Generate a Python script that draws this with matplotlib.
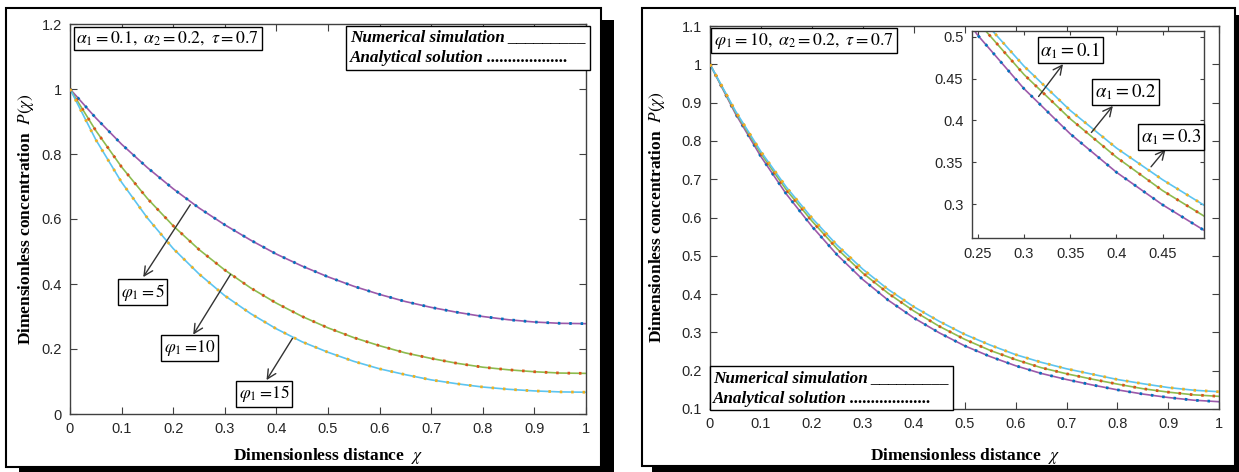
import numpy as np
import matplotlib
matplotlib.use("Agg")
import matplotlib.pyplot as plt
from matplotlib.patches import Rectangle

plt.rcParams["font.family"] = ["Liberation Sans", "DejaVu Sans"]
plt.rcParams["mathtext.fontset"] = "stix"

# data
x = np.round(np.arange(0, 1.0001, 0.05), 2)

# left panel: alpha1 = 0.1, alpha2 = 0.2, tau = 0.7
phi5 = [1.0, 0.911, 0.830, 0.758, 0.693, 0.634, 0.582, 0.535, 0.492, 0.455, 0.422,
        0.393, 0.368, 0.346, 0.328, 0.313, 0.300, 0.290, 0.283, 0.279, 0.278]
phi10 = [1.0, 0.872, 0.760, 0.663, 0.579, 0.506, 0.443, 0.388, 0.341, 0.300, 0.265,
         0.235, 0.210, 0.188, 0.171, 0.156, 0.144, 0.136, 0.130, 0.126, 0.125]
phi15 = [1.0, 0.844, 0.713, 0.603, 0.509, 0.431, 0.364, 0.309, 0.262, 0.222, 0.190,
         0.162, 0.139, 0.121, 0.105, 0.093, 0.083, 0.076, 0.071, 0.068, 0.067]

# right panel: phi1 = 10, alpha2 = 0.2, tau = 0.7
a01 = [1.0, 0.878, 0.772, 0.679, 0.599, 0.527, 0.465, 0.412, 0.367, 0.329, 0.295,
       0.267, 0.242, 0.222, 0.205, 0.191, 0.177, 0.166, 0.156, 0.149, 0.145]
a02 = [1.0, 0.875, 0.767, 0.672, 0.591, 0.518, 0.455, 0.402, 0.356, 0.316, 0.282,
       0.253, 0.229, 0.208, 0.192, 0.178, 0.165, 0.153, 0.144, 0.137, 0.133]
a03 = [1.0, 0.871, 0.759, 0.661, 0.577, 0.502, 0.438, 0.384, 0.338, 0.299, 0.265,
       0.237, 0.213, 0.193, 0.177, 0.163, 0.150, 0.139, 0.130, 0.123, 0.119]

line_cols = ["#9B59AA", "#8DBB4E", "#5CC4F0"]
dot_cols = ["#0072BD", "#D95319", "#EDB120"]
axis_col = "#404040"
W, H = 1239, 472

fig = plt.figure(figsize=(W / 100, H / 100), dpi=100)
fig.patch.set_facecolor("white")


def frame(x0, y0, x1, y1, dx, dy):
    # shadowed panel frame, pixel coords from top-left
    fig.patches.append(Rectangle(((x0 + dx) / W, 1 - (y1 + dy) / H), (x1 - x0) / W, (y1 - y0) / H,
                                 transform=fig.transFigure, fc="black", ec="none", zorder=-2))
    fig.patches.append(Rectangle((x0 / W, 1 - y1 / H), (x1 - x0) / W, (y1 - y0) / H,
                                 transform=fig.transFigure, fc="white", ec="black", lw=1.5, zorder=-1))


frame(6, 8, 601, 467, 13, 12)
frame(642, 8, 1235, 466, 10, 7)


def style(ax, size=10.5):
    ax.set_zorder(1)
    for sp in ax.spines.values():
        sp.set_color(axis_col)
        sp.set_linewidth(1.0)
    ax.tick_params(direction="in", top=True, right=True, length=5, width=0.8,
                   color=axis_col, labelcolor="#262626", labelsize=size, pad=6)


def curves(ax, ys):
    for y, lc, dc in zip(ys, line_cols, dot_cols):
        ax.plot(x, y, color=lc, lw=1.2, zorder=2)
        ax.plot(x, y, color=dc, lw=2.0, dashes=(0.9, 3.2), zorder=3)


def label_box(ax, xc, yc, s, size=12.5, **kw):
    ax.text(xc, yc, s, ha="center", va="center", fontsize=size, zorder=5,
            bbox=dict(boxstyle="square,pad=0.15", fc="white", ec="black", lw=1.0), **kw)


def arrow(ax, tail, head, **kw):
    ax.annotate("", xy=head, xytext=tail, zorder=4,
                arrowprops=dict(arrowstyle="->", color="#333333", lw=1.0, mutation_scale=16), **kw)


serif_b = dict(fontfamily="Liberation Serif", fontweight="bold", fontsize=12.5)
legend_font = dict(fontfamily="Liberation Serif", fontweight="bold", fontstyle="italic", fontsize=12.3)
legend_txt = "Numerical simulation _________\nAnalytical solution ..................."

# ---------------- left panel ----------------
ax1 = fig.add_axes([70 / W, 1 - 414 / H, 516 / W, 390 / H])
curves(ax1, [phi5, phi10, phi15])
ax1.set_xlim(0, 1)
ax1.set_ylim(0, 1.2)
ax1.set_xticks(np.arange(0, 1.01, 0.1))
ax1.set_xticklabels(["0", "0.1", "0.2", "0.3", "0.4", "0.5", "0.6", "0.7", "0.8", "0.9", "1"])
ax1.set_yticks(np.arange(0, 1.21, 0.2))
ax1.set_yticklabels(["0", "0.2", "0.4", "0.6", "0.8", "1", "1.2"])
style(ax1)
ax1.set_xlabel(r"Dimensionless distance  $\chi$", **serif_b)
ax1.set_ylabel(r"Dimensionless concentration  $P(\chi)$", **serif_b)
ax1.xaxis.set_label_coords(0.5, -0.082)
ax1.yaxis.set_label_coords(-0.066, 0.5)

ax1.text(0.012, 0.986, r"$\alpha_1 = 0.1,\ \alpha_2 = 0.2,\ \tau = 0.7$", transform=ax1.transAxes,
         ha="left", va="top", fontsize=12.8, zorder=5,
         bbox=dict(boxstyle="square,pad=0.15", fc="white", ec="black", lw=1.0))
ax1.text(0.542, 0.986, legend_txt, transform=ax1.transAxes, ha="left", va="top",
         linespacing=1.4, zorder=5, bbox=dict(boxstyle="square,pad=0.2", fc="white", ec="black", lw=1.0),
         **legend_font)

label_box(ax1, 0.141, 0.375, r"$\varphi_1 = 5$")
label_box(ax1, 0.232, 0.203, r"$\varphi_1 = \!10$")
label_box(ax1, 0.376, 0.062, r"$\varphi_1 = \!15$")
arrow(ax1, (0.236, 0.651), (0.139, 0.414))
arrow(ax1, (0.314, 0.437), (0.236, 0.237))
arrow(ax1, (0.434, 0.240), (0.378, 0.097))

# ---------------- right panel ----------------
ax2 = fig.add_axes([710 / W, 1 - 409 / H, 509.3 / W, 383 / H])
curves(ax2, [a03, a02, a01])
ax2.set_xlim(0, 1)
ax2.set_ylim(0.1, 1.1)
ax2.set_xticks(np.arange(0, 1.01, 0.1))
ax2.set_xticklabels(["0", "0.1", "0.2", "0.3", "0.4", "0.5", "0.6", "0.7", "0.8", "0.9", "1"])
ax2.set_yticks(np.arange(0.1, 1.11, 0.1))
ax2.set_yticklabels(["0.1", "0.2", "0.3", "0.4", "0.5", "0.6", "0.7", "0.8", "0.9", "1", "1.1"])
style(ax2)
ax2.set_xlabel(r"Dimensionless distance  $\chi$", **serif_b)
ax2.set_ylabel(r"Dimensionless concentration  $P(\chi)$", **serif_b)
ax2.xaxis.set_label_coords(0.5, -0.097)
ax2.yaxis.set_label_coords(-0.084, 0.5)

ax2.text(0.008, 0.988, r"$\varphi_1 = 10,\ \alpha_2 = 0.2,\ \tau = 0.7$", transform=ax2.transAxes,
         ha="left", va="top", fontsize=12.8, zorder=5,
         bbox=dict(boxstyle="square,pad=0.15", fc="white", ec="black", lw=1.0))
ax2.text(0.006, 0.006, legend_txt, transform=ax2.transAxes, ha="left", va="bottom",
         linespacing=1.4, zorder=5, bbox=dict(boxstyle="square,pad=0.2", fc="white", ec="black", lw=1.0),
         **legend_font)

# inset
ax3 = fig.add_axes([971.7 / W, 1 - 238.3 / H, 232.6 / W, 207.3 / H])
curves(ax3, [a03, a02, a01])
ax3.set_xlim(0.2435, 0.495)
ax3.set_ylim(0.259, 0.507)
ax3.set_xticks([0.25, 0.3, 0.35, 0.4, 0.45])
ax3.set_xticklabels(["0.25", "0.3", "0.35", "0.4", "0.45"])
ax3.set_yticks([0.3, 0.35, 0.4, 0.45, 0.5])
ax3.set_yticklabels(["0.3", "0.35", "0.4", "0.45", "0.5"])
style(ax3, size=10.5)
ax3.set_zorder(2)
ax3.tick_params(length=3)

label_box(ax3, 0.350, 0.484, r"$\alpha_1 = 0.1$", size=13.5)
label_box(ax3, 0.410, 0.434, r"$\alpha_1 = 0.2$", size=13.5)
label_box(ax3, 0.459, 0.380, r"$\alpha_1 = 0.3$", size=13.5)
arrow(ax3, (0.314, 0.426), (0.344, 0.470))
arrow(ax3, (0.371, 0.383), (0.398, 0.420))
arrow(ax3, (0.4355, 0.342), (0.455, 0.368))

fig.savefig("out.png", dpi=100)
